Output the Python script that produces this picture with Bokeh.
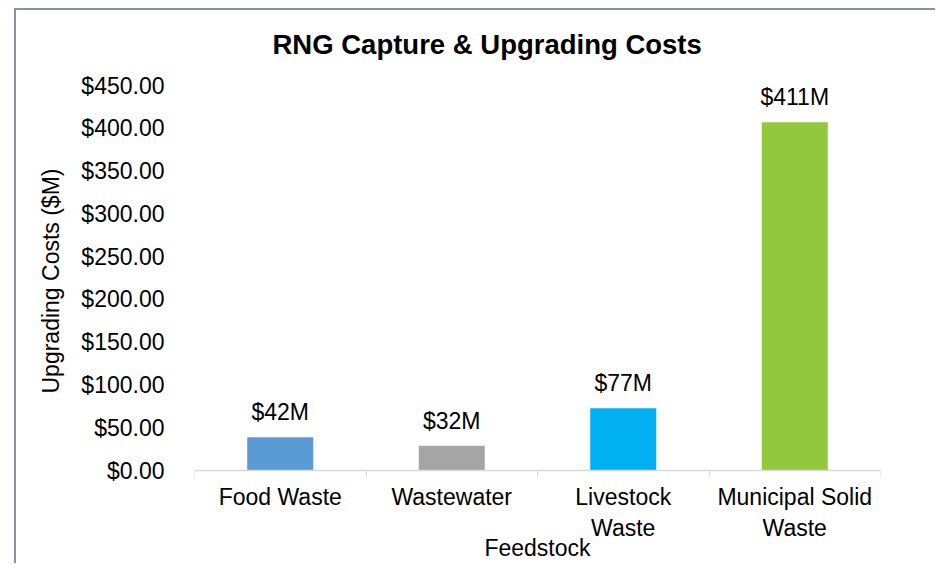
from bokeh.plotting import figure
from bokeh.models import FixedTicker, Range1d, ColumnDataSource, Title
from bokeh.core.properties import value
from bokeh.embed import file_html
from bokeh.resources import INLINE

# ---- data ----
categories = ["Food Waste", "Wastewater", "Livestock\nWaste", "Municipal Solid\nWaste"]
costs = [39, 29, 73, 407]                      # bar heights ($M)
bar_labels = ["$42M", "$32M", "$77M", "$411M"]  # data labels as printed
colors = ["#5B9BD5", "#A5A5A5", "#00B0F0", "#92C83E"]
y_ticks = [0, 50, 100, 150, 200, 250, 300, 350, 400, 450]
y_tick_labels = ["$0.00", "$50.00", "$100.00", "$150.00", "$200.00",
                 "$250.00", "$300.00", "$350.00", "$400.00", "$450.00"]

FONT = "Liberation Sans"
BORDER = "#8591A5"

centers = [i + 0.5 for i in range(len(categories))]
bounds = [i for i in range(len(categories) + 1)]

src = ColumnDataSource(dict(x=centers, top=costs, color=colors, label=bar_labels))

# frame: top at 450, y=0 386px lower; frame continues to canvas bottom
W, H = 935, 563
TOP = 84
px_per_unit = 386 / 450
y_min = -((H - TOP) - 386) / px_per_unit

chart_border = (
    f"linear-gradient({BORDER}, {BORDER}) 14px 8px / 100% 2px no-repeat, "
    f"linear-gradient({BORDER}, {BORDER}) 14px 8px / 2px 100% no-repeat, "
    "#ffffff"
)

p = figure(width=W, height=H, output_backend="svg", toolbar_location=None,
           x_range=Range1d(0, len(categories)), y_range=Range1d(y_min, 450),
           min_border_left=194, min_border_right=55, min_border_top=TOP,
           min_border_bottom=0, title="RNG Capture & Upgrading Costs",
           styles={"background": chart_border})
p.border_fill_color = None
p.background_fill_color = None

p.title.text_font = FONT
p.title.text_font_size = "27.5px"
p.title.text_font_style = "bold"
p.title.text_color = "#000000"
p.title.align = "left"
p.title.offset = 78
p.title.standoff = 52

p.vbar(x="x", top="top", width=0.385, bottom=0, fill_color="color",
       line_color=None, source=src)
p.text(x="x", y="top", text="label", source=src, text_align="center",
       text_baseline="alphabetic", y_offset=-25, text_font=value(FONT),
       text_font_size="23px", text_color="#000000")

p.grid.visible = False
p.outline_line_color = None

xa = p.xaxis[0]
xa.fixed_location = 0
xa.ticker = FixedTicker(ticks=centers, minor_ticks=bounds)
xa.major_label_overrides = {c: lab for c, lab in zip(centers, categories)}
xa.major_tick_line_color = None
xa.major_tick_out = 0
xa.major_tick_in = 0
xa.minor_tick_line_color = "#D9D9D9"
xa.minor_tick_out = 7
xa.minor_tick_in = 0
xa.axis_line_color = "#D9D9D9"
xa.axis_line_width = 1.5
xa.major_label_text_font = FONT
xa.major_label_text_font_size = "23px"
xa.major_label_text_color = "#000000"
xa.major_label_standoff = 6
xa.axis_label = "Feedstock"
xa.axis_label_text_font = FONT
xa.axis_label_text_font_size = "23px"
xa.axis_label_text_font_style = "normal"
xa.axis_label_text_color = "#000000"
xa.axis_label_standoff = -9

ya = p.yaxis[0]
ya.ticker = FixedTicker(ticks=y_ticks)
ya.major_label_overrides = {t: lab for t, lab in zip(y_ticks, y_tick_labels)}
ya.axis_line_color = None
ya.major_tick_line_color = None
ya.minor_tick_line_color = None
ya.major_tick_out = 0
ya.major_tick_in = 0
ya.major_label_standoff = 30
ya.major_label_text_font = FONT
ya.major_label_text_font_size = "23px"
ya.major_label_text_color = "#000000"

# y-axis title as a left-side title so it can be centred on the 0..450 span
ytitle = Title(text="Upgrading Costs ($M)", align="left", offset=170,
               standoff=30, text_font=FONT, text_font_size="23px",
               text_font_style="normal", text_color="#000000")
p.add_layout(ytitle, "left")

open("out.html", "w").write(file_html(p, INLINE))
